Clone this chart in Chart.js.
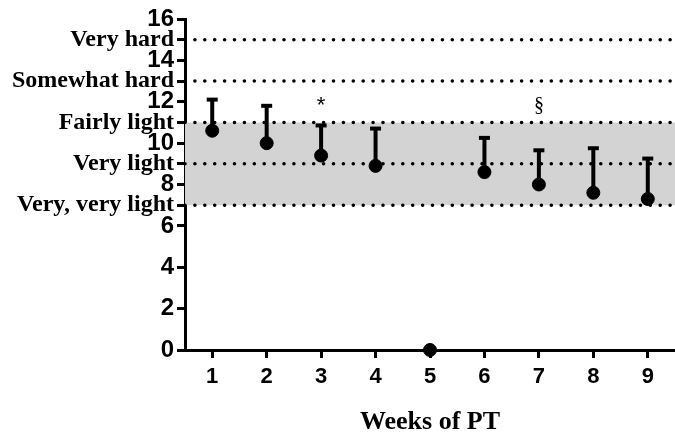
<!DOCTYPE html>
<html>
<head>
<meta charset="utf-8">
<script src="https://cdn.jsdelivr.net/npm/chart.js@4.4.1/dist/chart.umd.min.js"></script>
<style>
  html, body { margin: 0; background: #fff; }
  #wrap { width: 675px; height: 432px; }
</style>
</head>
<body>
<div id="wrap"><canvas id="c"></canvas></div>
<script>
// data
const weeks = [1, 2, 3, 4, 5, 6, 7, 8, 9];
const meanRPE = [10.6, 10.0, 9.4, 8.9, 0, 8.6, 8.0, 7.6, 7.3];
const upperSD = [12.2, 11.9, 10.95, 10.8, null, 10.35, 9.75, 9.85, 9.35];
const yTicks = [0, 2, 4, 6, 8, 10, 12, 14, 16];
const borgValues = [7, 9, 11, 13, 15];
const borgLabels = ['Very, very light', 'Very light', 'Fairly light', 'Somewhat hard', 'Very hard'];
const bandRange = [7, 11];
const markWeeks = [3, 7];
const markY = [11.8, 11.8];
const markText = ['*', '§'];

const SANS = 'Liberation Sans, Arial, sans-serif';
const SERIF = 'Liberation Serif, Times New Roman, serif';
const xSpan = [0.5, 9.5];

const lineAcross = (v) => xSpan.map((x) => ({ x, y: v }));

// error bars (upper only) + significance marks, drawn via the scales
const errorBars = {
  id: 'errorBars',
  afterDatasetsDraw(chart) {
    const { ctx, scales: { x, y } } = chart;
    ctx.save();
    ctx.strokeStyle = '#000';
    weeks.forEach((w, i) => {
      if (upperSD[i] == null) return;
      const px = x.getPixelForValue(w);
      const y0 = y.getPixelForValue(meanRPE[i]);
      const y1 = y.getPixelForValue(upperSD[i]);
      ctx.lineWidth = 4;
      ctx.beginPath(); ctx.moveTo(px, y0); ctx.lineTo(px, y1 + 2); ctx.stroke();
      ctx.beginPath(); ctx.moveTo(px - 5.5, y1 + 2); ctx.lineTo(px + 5.5, y1 + 2); ctx.stroke();
    });
    ctx.fillStyle = '#000';
    ctx.textAlign = 'center';
    ctx.textBaseline = 'middle';
    markWeeks.forEach((w, i) => {
      ctx.font = markText[i] === '*' ? `22px ${SANS}` : `20px ${SERIF}`;
      ctx.fillText(markText[i], x.getPixelForValue(w), y.getPixelForValue(markY[i]));
    });
    ctx.restore();
  },
};

const datasets = [
  {
    label: 'band', data: lineAcross(bandRange[1]), fill: { value: bandRange[0] },
    backgroundColor: '#d3d3d3', borderWidth: 0, pointRadius: 0, order: 3,
  },
  ...borgValues.map((v) => ({
    label: 'borg ' + v, data: lineAcross(v), borderColor: '#000', borderWidth: 3.6,
    borderDash: [0, 9.9], borderCapStyle: 'round', pointRadius: 0, fill: false, order: 2,
  })),
  {
    label: 'RPE', type: 'scatter', data: weeks.map((w, i) => ({ x: w, y: meanRPE[i] })),
    backgroundColor: '#000', borderColor: '#000', pointRadius: 6.5, clip: false, order: 1,
  },
];

new Chart(document.getElementById('c'), {
  type: 'line',
  data: { datasets },
  plugins: [errorBars],
  options: {
    responsive: true, maintainAspectRatio: false, animation: false,
    layout: { autoPadding: false, padding: { top: 19, right: 0, left: 0, bottom: 0 } },
    plugins: { legend: { display: false }, tooltip: { enabled: false } },
    scales: {
      x: {
        type: 'linear', min: xSpan[0], max: xSpan[1],
        afterBuildTicks: (s) => { s.ticks = weeks.map((v) => ({ value: v })); },
        afterFit: (s) => { s.height = 82; },
        grid: { drawOnChartArea: false, drawTicks: true, tickLength: 8, lineWidth: 3, color: '#000' },
        border: { display: true, width: 3, color: '#000' },
        ticks: { color: '#000', padding: 6, autoSkip: false, font: { family: SANS, size: 22, weight: 'bold' } },
        title: {
          display: true, text: 'Weeks of PT', color: '#000',
          font: { family: SERIF, size: 26, weight: 'bold', lineHeight: 1 }, padding: { top: 0, bottom: -3 },
        },
      },
      y: {
        min: 0, max: 16,
        afterBuildTicks: (s) => {
          s.ticks = [...yTicks, ...borgValues].sort((a, b) => a - b).map((v) => ({ value: v }));
        },
        afterFit: (s) => { s.width = 185; },
        grid: { drawOnChartArea: false, drawTicks: true, tickLength: 8, lineWidth: 3, color: '#000' },
        border: { display: true, width: 3, color: '#000' },
        ticks: {
          color: '#000', padding: 3, autoSkip: false,
          callback: (v) => {
            const k = borgValues.indexOf(v);
            return k >= 0 ? borgLabels[k] : v;
          },
          font: (c) => borgValues.includes(c.tick && c.tick.value)
            ? { family: SERIF, size: 24, weight: 'bold', lineHeight: 1 }
            : { family: SANS, size: 24, weight: 'bold', lineHeight: 1 },
        },
      },
    },
  },
});
</script>
</body>
</html>
